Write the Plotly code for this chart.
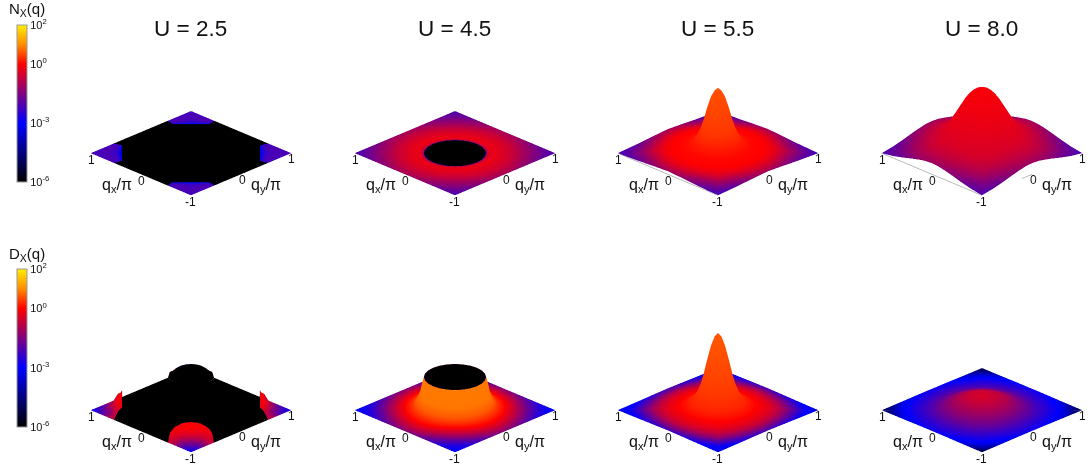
import math
import plotly.graph_objects as go

W, H = 1090, 469
TITLES = ["U = 2.5", "U = 4.5", "U = 5.5", "U = 8.0"]
ROW_NAMES = ["N<sub>X</sub>(q)", "D<sub>X</sub>(q)"]
CB_TICKS = [-6, -3, 0, 2]
CB_TEXT = ["10<sup>-6</sup>", "10<sup>-3</sup>", "10<sup>0</sup>", "10<sup>2</sup>"]
CMAP = [[0, "#000000"], [0.375, "#0000ff"], [0.75, "#ff0000"], [0.875, "#ff8c00"], [1, "#ffee00"]]

# angular sectors (degrees in one octant) and radial stations
ANG_C = [0, 15, 30, 45]
ANG_F = [0, 7.5, 15, 22.5, 30, 37.5, 45]
ANG_D = [0, 10, 25, 28.4, 28.8, 30.4, 33, 37, 41, 45]
R_PEAK = [0, .05, .1, .15, .2, .25, .3, .35, .4, .45, .5, .6, .7, .8, .9, 1.0, 1.1, 1.2, 1.3, 1.4143]
R_HOLE = [0, .2, .43, .44, .46, .5, .55, .6, .7, .8, .9, 1.0, 1.1, 1.2, 1.3, 1.4143]
# U = 2.5: stations relative to the nodal contour (<=1 inside, >1 out to the zone edge)
S_CHORD = [0, .985, .99, .995, 1, 1.1, 1.2, 1.35, 1.5, 1.65, 1.8, 2.0]
CONTOUR = [1, 1.176, 1.466, 1.541, 1.457, 1.38, 1.38, 1.38, 1.38, 1.38]

# ---- N_X(q): log10 of value (colour) and drawn height
BLK = [-7, -7, -7, -7]
N25_C = [[-7] * 12, [-7] * 12, [-7] * 12, BLK + [-3.0],
         BLK + [-3.2, -2.6, -2.4, -2.3], BLK + [-3.3, -2.6, -2.4, -2.25, -2.2],
         BLK + [-3.4, -2.6, -2.35, -2.2, -2.1, -2.1, -2.1, -2.2],
         BLK + [-3.5, -2.6, -2.3, -2.2, -2.1, -2.1, -2.1, -2.2],
         BLK + [-3.6, -2.6, -2.3, -2.2, -2.1, -2.1, -2.15, -2.2],
         BLK + [-3.6, -2.6, -2.3, -2.2, -2.1, -2.1, -2.15, -2.2]]
N45_CORE = [-7, -7, -7, -1.5, -.6, -.3, -.28, -.3]
N45_C = [N45_CORE + [-.45, -.6, -.85, -1.05],
         N45_CORE + [-.45, -.6, -.85, -1.1, -1.25],
         N45_CORE + [-.45, -.62, -.88, -1.15, -1.4, -1.6],
         N45_CORE + [-.5, -.65, -.9, -1.15, -1.4, -1.65, -1.9, -2.1]]
N55_CORE = [.55, .54, .52, .48, .42, .35, .25, .15, .1, .05, .02]
N55_C = [N55_CORE + [0, -.1, -.35, -.7, -1.1],
         N55_CORE + [0, -.1, -.35, -.72, -1.15, -1.3],
         N55_CORE + [0, -.1, -.35, -.75, -1.2, -1.55, -1.8],
         N55_CORE + [0, -.1, -.3, -.6, -1.0, -1.35, -1.7, -2.0, -2.2]]
N55_HC = [65, 62, 56, 46, 34, 24, 17, 13, 10.5, 9, 8]
N55_H = [N55_HC + [6.5, 5.5, 4.5, 3.7, 3],
         N55_HC + [6.4, 5.3, 4.2, 3.3, 2.6, 2.2],
         N55_HC + [6.2, 5, 3.8, 2.9, 2.1, 1.5, 1],
         N55_HC + [6, 4.7, 3.5, 2.6, 1.8, 1.2, .7, .3, 0]]
N80_CORE = [-.1, -.1, -.1, -.12, -.14, -.17, -.2, -.24, -.28, -.32, -.37]
N80_C = [N80_CORE + [-.45, -.6, -.75, -.95, -1.15],
         N80_CORE + [-.45, -.6, -.75, -.95, -1.15, -1.2],
         N80_CORE + [-.45, -.6, -.76, -.96, -1.2, -1.3],
         N80_CORE + [-.46, -.6, -.77, -.97, -1.25, -1.45],
         N80_CORE + [-.47, -.6, -.78, -1.0, -1.25, -1.55, -1.65],
         N80_CORE + [-.48, -.62, -.8, -1.0, -1.25, -1.55, -1.8, -1.9],
         N80_CORE + [-.5, -.65, -.82, -1.0, -1.25, -1.5, -1.7, -1.9, -2.15]]
N80_HC = [65, 64.5, 63, 60.5, 57, 52.5, 47, 41.5, 36, 31, 26]
N80_H = [N80_HC + [20, 16.5, 14.5, 12.5, 11],
         N80_HC + [20, 16.5, 14, 12.3, 10.8, 10.5],
         N80_HC + [19.5, 16, 13.5, 11.5, 9.7, 9],
         N80_HC + [18.5, 15, 12.5, 10.5, 8.3, 7],
         N80_HC + [17, 13.5, 11, 9, 7, 5, 4.5],
         N80_HC + [15.5, 12, 9.3, 7.2, 5.5, 3.7, 2.3, 2],
         N80_HC + [14.5, 11, 8, 5.8, 4, 2.5, 1.3, .5, 0]]

# ---- D_X(q)
D25_C = [[-7] * 12, [-7] * 12, [-7] * 12, BLK + [-.5],
         BLK + [-.2, -.3, -.4, -.5, -.55, -.6, -.65, -.7],
         BLK + [-.15, -.25, -.4, -.5, -.6, -.7, -.75, -.8],
         BLK + [-.1, -.2, -.35, -.55, -.7, -.85, -.95, -1.0],
         BLK + [-.08, -.12, -.3, -.7, -1.1, -1.35, -1.55, -1.6],
         BLK + [-.05, -.1, -.3, -.85, -1.4, -1.8, -2.2, -2.3],
         BLK + [-.05, -.1, -.3, -.9, -1.5, -2.0, -2.5, -3.0]]
D25_H = [[0] * 12, [0] * 12, [0] * 12, [0] * 12,
         [0, 0, 0, 7.5, 7.5, 5, 3, 1.5, .7, .3, .1, 0],
         [0, 0, 0, 10.5, 10.5, 7, 4.5, 2.2, 1, .4, .1, 0],
         [0, 0, 0, 13, 13, 9, 6, 3, 1.5, .6, .2, 0],
         [0, 0, 0, 15.5, 15.5, 11, 7.5, 4, 2, .9, .3, 0],
         [0, 0, 0, 16.7, 16.7, 12, 8.5, 4.5, 2.4, 1.1, .4, 0],
         [0, 0, 0, 17, 17, 12, 8.5, 5, 2.9, 1.4, .5, 0]]
D45_CORE = [-7, -7, -7, .85, .85, .82, .62, .35]
D45_C = [D45_CORE + [.05, -.4, -.9, -1.4],
         D45_CORE + [.03, -.45, -.95, -1.5, -1.7],
         D45_CORE + [.02, -.48, -1.0, -1.6, -2.1, -2.4],
         D45_CORE + [0, -.5, -1.0, -1.6, -2.1, -2.6, -2.9, -3.0]]
D45_HC = [33, 33, 33, 33, 28, 16, 9, 5]
D45_H = [D45_HC + [3, 1.6, .7, 0], D45_HC + [3, 1.8, .9, .2, 0],
         D45_HC + [3.3, 2.2, 1.4, .8, .4, 0], D45_HC + [3.5, 2.5, 1.8, 1.2, .8, .4, .2, 0]]
D55_CORE = [.6, .59, .56, .52, .46, .4, .33, .27, .2, .12, .05]
D55_C = [D55_CORE + [-.15, -.4, -.8, -1.5, -2.2],
         D55_CORE + [-.15, -.4, -.8, -1.45, -2.2, -2.5],
         D55_CORE + [-.13, -.35, -.7, -1.2, -1.9, -2.5, -2.9],
         D55_CORE + [-.1, -.3, -.6, -1.0, -1.5, -2.1, -2.7, -3.0, -3.4]]
D55_HC = [77, 73, 64, 51, 37, 25, 17, 12, 9, 7, 5.5]
D55_H = [D55_HC + [4, 3, 2, 1.3, .8],
         D55_HC + [4, 3, 2, 1.3, .8, .6],
         D55_HC + [3.9, 2.9, 2, 1.3, .8, .5, .3],
         D55_HC + [3.8, 2.8, 1.9, 1.2, .8, .5, .3, .1, 0]]
D80_CORE = [-.5, -.52, -.55, -.6, -.66, -.74, -.85, -.97, -1.1, -1.25, -1.4]
D80_C = [D80_CORE + [-1.75, -2.05, -2.35, -2.6, -2.8],
         D80_CORE + [-1.75, -2.05, -2.35, -2.6, -2.85, -2.95],
         D80_CORE + [-1.7, -2.0, -2.3, -2.55, -2.85, -3.1, -3.4],
         D80_CORE + [-1.7, -2.0, -2.3, -2.5, -2.75, -3.1, -3.6, -4.4, -5.2]]
D80_HC = [15, 14.9, 14.6, 14.1, 13.5, 12.6, 11.5, 10.3, 9, 7.5, 6]
D80_H = [D80_HC + [3.5, 2, 1.2, .6, .3]] * 2 + [D80_HC + [3.5, 2, 1.2, .6, .3, .2, .1]] + \
        [D80_HC + [3.5, 2, 1.2, .6, .3, .2, .1, 0, 0]]

PANELS = [
    [(ANG_D, S_CHORD, "d", N25_C, None), (ANG_C, R_HOLE, "c", N45_C, None),
     (ANG_C, R_PEAK, "c", N55_C, N55_H), (ANG_F, R_PEAK, "c", N80_C, N80_H)],
    [(ANG_D, S_CHORD, "d", D25_C, D25_H), (ANG_C, R_HOLE, "c", D45_C, D45_H),
     (ANG_C, R_PEAK, "c", D55_C, D55_H), (ANG_C, R_PEAK, "c", D80_C, D80_H)],
]
AXIS_TICKS = [-1, 0, 1]
QY_STUB = [-.2, 0]

# ---- page layout (pixels)
CX = [190.5, 454.5, 717.5, 981.5]
CY = [153, 410]
PEAK_BOX = 80          # height units held by the scene's z box
EL = math.asin(0.42)
SC = 100 / 65.5
ASPECT_Z = SC * PEAK_BOX / (2 * 70.7 * math.cos(EL))
EYE = 1.0
DOM_W, DOM_H = 210, 186


def pad(row, n):
    return list(row) + [row[-1]] * (n - len(row))


def build(ang, rad, metric, col, hgt):
    """Expand an octant table to the whole square using the lattice symmetry."""
    seq = [(a, i) for i, a in enumerate(ang)]
    seq += [(90 - a, i) for i, a in reversed(list(enumerate(ang)))][1:]
    full = []
    for k in range(4):
        full += [(a + 90 * k, i) for a, i in (seq if k == 3 else seq[:-1])]
    X, Y, Z, C = [], [], [], []
    n = len(rad)
    for a, i in full:
        c, s = math.cos(math.radians(a)), math.sin(math.radians(a))
        xr, yr, zr, cr = [], [], [], []
        colrow = pad(col[i], n)
        hrow = pad(hgt[i], n) if hgt else [0] * n
        for r, v, h in zip(rad, colrow, hrow):
            if metric == "d":
                t = math.tan(math.radians(ang[i]))
                rmax, rc = 1 + t, CONTOUR[i]
                rho = rc * r if r <= 1 else rc + (r - 1) * (rmax - rc)
                norm = abs(c) + abs(s)
                x, y = rho * c / norm, rho * s / norm
            else:
                x, y = r * c, r * s
            m = max(abs(x), abs(y))
            f = min(1.0, 1.0 / m) if m > 0 else 1.0
            xr.append(x * f); yr.append(y * f); zr.append(h); cr.append(v)
        X.append(xr); Y.append(yr); Z.append(zr); C.append(cr)
    return X, Y, Z, C


fig = go.Figure()
layout = {}
ann = []
TXT = dict(family="Liberation Sans", color="#111111")
LIGHT = dict(ambient=1, diffuse=0, specular=0, roughness=1, fresnel=0)
GREY = dict(color="#aaaaaa", width=1.5)

for row in range(2):
    for col in range(4):
        ang, rad, metric, ctab, htab = PANELS[row][col]
        X, Y, Z, C = build(ang, rad, metric, ctab, htab)
        idx = row * 4 + col + 1
        name = "scene" if idx == 1 else f"scene{idx}"
        show = col == 0
        cb = None
        if show:
            top = 25 if row == 0 else 269
            cb = dict(x=17 / W, xanchor="left", y=1 - top / H, yanchor="top", lenmode="pixels",
                      len=157 if row == 0 else 158, thickness=10, thicknessmode="pixels", xpad=0, ypad=0,
                      tickvals=CB_TICKS, ticktext=CB_TEXT, ticks="", outlinecolor="#999999", outlinewidth=1,
                      tickfont=dict(size=11, **TXT))
        fig.add_trace(go.Surface(x=Y, y=X, z=Z, surfacecolor=C, cmin=-6, cmax=2, colorscale=CMAP,
                                 showscale=show, colorbar=cb, lighting=LIGHT, hoverinfo="skip",
                                 scene=name))
        if row == 0 and col >= 2:
            lines = [([-1] * 3, AXIS_TICKS)]
            if col == 3:
                lines.append((QY_STUB, [-1, -1]))
            for lx, ly in lines:
                fig.add_trace(go.Scatter3d(x=lx, y=ly, z=[0] * len(lx), mode="lines", line=GREY,
                                           hoverinfo="skip", showlegend=False, scene=name))
        yc = CY[row] - PEAK_BOX / 2
        dom_x = [(CX[col] - DOM_W / 2) / W, (CX[col] + DOM_W / 2) / W]
        dom_y = [1 - (yc + DOM_H / 2) / H, 1 - (yc - DOM_H / 2) / H]
        axis = dict(visible=False, showspikes=False)
        layout[name] = dict(
            domain=dict(x=dom_x, y=dom_y),
            xaxis=dict(range=[-1, 1], **axis), yaxis=dict(range=[-1, 1], **axis),
            zaxis=dict(range=[0, PEAK_BOX], **axis),
            aspectmode="manual", aspectratio=dict(x=SC, y=SC, z=ASPECT_Z),
            camera=dict(eye=dict(x=-EYE, y=-EYE, z=EYE * math.sqrt(2) * math.tan(EL)),
                        center=dict(x=0, y=0, z=0), up=dict(x=0, y=0, z=1),
                        projection=dict(type="orthographic")),
            bgcolor="rgba(0,0,0,0)",
        )
        for dx, dy, t, sz in [(-99.5, 7, "1", 12), (-49, 28, "0", 12), (0, 49, "-1", 12), (52, 27, "0", 12),
                              (101, 6, "1", 12), (-74, 32, "q<sub>x</sub>/π", 16), (75, 32, "q<sub>y</sub>/π", 16)]:
            ann.append(dict(x=(CX[col] + dx) / W, y=1 - (CY[row] + dy) / H, xref="paper", yref="paper",
                            text=t, showarrow=False, xanchor="center", yanchor="middle",
                            font=dict(size=sz, **TXT)))

for col, t in enumerate(TITLES):
    ann.append(dict(x=(CX[col] - 0.5) / W, y=1 - 28.5 / H, xref="paper", yref="paper", text=t, showarrow=False,
                    xanchor="center", yanchor="middle", font=dict(size=22.5, **TXT)))
for row, t in enumerate(ROW_NAMES):
    ann.append(dict(x=27 / W, y=1 - (9 if row == 0 else 254) / H, xref="paper", yref="paper", text=t,
                    showarrow=False, xanchor="center", yanchor="middle", font=dict(size=15, **TXT)))

fig.update_layout(width=W, height=H, margin=dict(l=0, r=0, t=0, b=0), paper_bgcolor="white",
                  showlegend=False, annotations=ann, **layout)
fig.write_html("out.html", config={"displayModeBar": False},
               post_script="document.body.style.margin='0';document.body.style.overflow='hidden';")
